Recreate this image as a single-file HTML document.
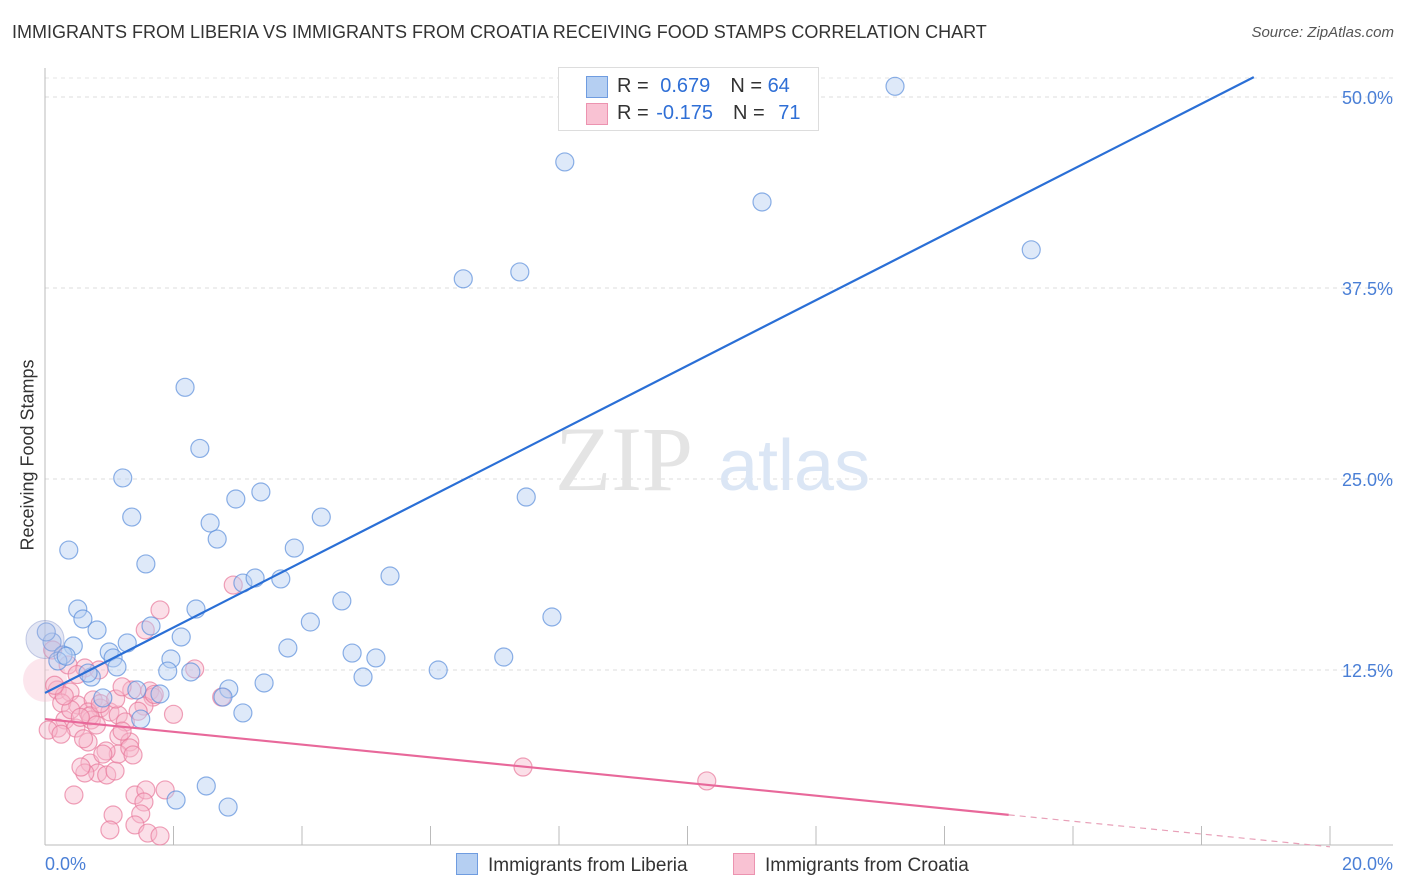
<!DOCTYPE html>
<html><head><meta charset="utf-8"><style>
body{margin:0;background:#fff;font-family:"Liberation Sans",sans-serif;}
#wrap{position:relative;width:1406px;height:892px;overflow:hidden;}
.t{position:absolute;white-space:nowrap;}
</style></head><body>
<div id="wrap">
<div class="t" style="left:12px;top:22px;font-size:18px;color:#333;">IMMIGRANTS FROM LIBERIA VS IMMIGRANTS FROM CROATIA RECEIVING FOOD STAMPS CORRELATION CHART</div>
<div class="t" style="right:12px;top:24px;font-size:15px;color:#555;font-style:italic;">Source: ZipAtlas.com</div>
<div class="t" style="left:28px;top:455px;font-size:18px;color:#333;transform:translate(-50%,-50%) rotate(-90deg);">Receiving Food Stamps</div>
<svg id="svg" width="1406" height="892" style="position:absolute;left:0;top:0"></svg>
</div>
<script>
const xTicks=[0,2,4,6,8,10,12,14,16,18,20];
const yTicks=[12.5,25,37.5,50];
const yTickLabels=["12.5%","25.0%","37.5%","50.0%"];
const xEdgeLabels=["0.0%","20.0%"];
const blueX=[13.23,8.09,11.16,15.35,6.51,7.39,2.18,2.41,1.21,7.49,3.36,2.97,1.35,4.30,2.57,2.68,0.37,3.88,1.57,5.37,3.08,3.27,3.67,4.62,7.89,0.51,2.35,0.59,4.13,0.81,1.65,0.11,2.12,1.28,0.44,3.78,1.00,4.78,1.06,0.28,1.96,5.15,7.14,0.20,1.12,1.91,6.12,4.95,0.72,2.27,0.67,3.41,2.86,1.43,1.79,0.90,2.77,3.08,1.49,2.51,2.04,2.85,0.33,0.02];
const blueY=[50.7,45.75,43.13,40.0,38.1,38.55,31.0,27.0,25.07,23.82,24.15,23.69,22.51,22.51,22.12,21.07,20.35,20.48,19.44,18.65,18.19,18.52,18.46,17.02,15.97,16.49,16.49,15.84,15.64,15.12,15.38,14.33,14.66,14.27,14.07,13.94,13.68,13.61,13.29,13.48,13.22,13.29,13.35,13.09,12.70,12.43,12.50,12.04,12.04,12.37,12.3,11.65,11.26,11.19,10.93,10.67,10.73,9.69,9.29,4.91,3.99,3.53,13.4,14.99];
const pinkX=[2.93,1.79,1.56,0.12,2.33,0.36,0.62,0.84,0.19,0.39,0.26,0.51,0.75,0.86,1.01,0.67,0.31,0.20,0.48,0.72,1.14,1.25,1.63,1.68,1.35,2.75,1.54,1.15,0.67,1.32,0.70,0.82,0.62,0.96,1.09,0.56,1.14,1.32,1.37,1.40,0.45,1.57,1.87,1.54,1.06,1.49,1.01,1.40,1.60,1.79,7.44,10.30,0.05,0.70,0.86,1.20,0.40,0.95,1.45,0.30,0.55,0.80,1.10,0.25,0.60,1.70,0.90,0.15,2.0,1.2,0.5];
const pinkY=[18.06,16.43,15.12,13.81,12.57,12.83,12.63,12.50,11.19,11.06,10.34,10.21,10.54,10.01,9.75,9.75,9.23,8.70,8.70,9.23,9.55,9.10,11.13,10.73,11.19,10.73,10.14,8.18,7.79,7.79,6.41,5.76,5.76,5.63,5.89,6.15,7.00,7.40,6.94,4.32,4.32,4.65,4.65,3.86,3.01,3.08,2.03,2.36,1.83,1.64,6.15,5.24,8.57,9.5,10.3,8.5,9.9,7.2,9.8,10.8,9.4,8.9,10.6,8.3,8.0,10.9,7.0,11.5,9.6,11.4,12.2];
const blueBig=[{x:0.0,y:14.5}];
const pinkBig=[{x:0.0,y:11.85}];
const blueFit=[11.0,2.142];   // intercept, slope
const pinkFit=[9.29,-0.418];
const xs=v=>45+v*64.25;
const ys=v=>861-v*15.28;
const svg=document.getElementById('svg');
const NS='http://www.w3.org/2000/svg';
function mk(t,a){const e=document.createElementNS(NS,t);for(const k in a)e.setAttribute(k,a[k]);svg.appendChild(e);return e;}
yTicks.forEach((v,i)=>{
 const g=mk('line',{x1:45,x2:1393,y1:ys(v),y2:ys(v),stroke:'#ddd','stroke-dasharray':'4,4'});
 
 
 const t=mk('text',{x:1393,y:ys(v)+7,'text-anchor':'end','font-size':18,fill:'#4a7fd6','font-family':'Liberation Sans'});
 t.textContent=yTickLabels[i];
 
 
});
mk('line',{x1:45,x2:1393,y1:78,y2:78,stroke:'#e4e4e4','stroke-dasharray':'4,4'});
const ax=mk('line',{x1:45,x2:1393,y1:845,y2:845,stroke:'#bbb'});


const ay=mk('line',{x1:45,x2:45,y1:68,y2:845,stroke:'#bbb'});


xTicks.forEach(v=>{const l=mk('line',{x1:xs(v),x2:xs(v),y1:826,y2:845,stroke:'#bbb'});
 
 });
[[0,'start'],[20,'end']].forEach((p,i)=>{const t=mk('text',{x:i?1393:45,y:870,'text-anchor':p[1],'font-size':18,fill:'#4a7fd6','font-family':'Liberation Sans'});t.textContent=xEdgeLabels[i];
 
 });
const w=mk('text',{x:555,y:490,'font-size':92,fill:'#e4e4e4','font-family':'Liberation Serif'});w.textContent='ZIP';


const w2=mk('text',{x:718,y:490,'font-size':72,fill:'#dbe6f5','font-family':'Liberation Sans'});w2.textContent='atlas';


function dots(X,Y,fill,stroke,name){X.forEach((x,i)=>{const c=mk('circle',{cx:xs(x),cy:ys(Y[i]),r:9,fill:fill,'fill-opacity':0.45,stroke:stroke,'stroke-opacity':0.7,'stroke-width':1.2});
 
 });}
pinkBig.forEach(p=>{const c=mk('circle',{cx:xs(p.x),cy:ys(p.y),r:22,fill:'#f7b8cb','fill-opacity':0.35});
 
 });
dots(pinkX,pinkY,'#f7b8cb','#e8799b','croatia-point');
dots(blueX,blueY,'#b5cff2','#5b8fdc','liberia-point');
blueBig.forEach(p=>{const c=mk('circle',{cx:xs(p.x),cy:ys(p.y),r:19,fill:'#b0b8e0','fill-opacity':0.35,stroke:'#8090c8','stroke-opacity':0.45});
 
 });
const bx2=(51.3-blueFit[0])/blueFit[1];
const bl=mk('line',{x1:xs(0),y1:ys(blueFit[0]),x2:xs(bx2),y2:ys(blueFit[0]+blueFit[1]*bx2),stroke:'#2a6fd6','stroke-width':2.2});


const pl=mk('line',{x1:xs(0),y1:ys(pinkFit[0]),x2:xs(15),y2:ys(pinkFit[0]+pinkFit[1]*15),stroke:'#e8689a','stroke-width':2.2});


const pd=mk('line',{x1:xs(15),y1:ys(pinkFit[0]+pinkFit[1]*15),x2:xs(20),y2:ys(pinkFit[0]+pinkFit[1]*20),stroke:'#e8a0b8','stroke-width':1.2,'stroke-dasharray':'6,5'});


</script>
<div class="t" style="left:558px;top:67px;width:259px;height:62px;border:1px solid #ddd;background:#fff;font-size:20px;color:#333;">
 <div style="position:absolute;left:27px;top:8px;width:20px;height:20px;background:#b5cff2;border:1px solid #6f9ce0;"></div>
 <div style="position:absolute;left:58px;top:7px;">R = <span style="color:#2f6fd6;margin-left:6px">0.679</span><span style="margin-left:20px">N = </span><span style="color:#2f6fd6">64</span></div>
 <div style="position:absolute;left:27px;top:35px;width:20px;height:20px;background:#f9c2d3;border:1px solid #ec93b0;"></div>
 <div style="position:absolute;left:58px;top:34px;">R = <span style="color:#2f6fd6;margin-left:2px">-0.175</span><span style="margin-left:20px">N = </span><span style="color:#2f6fd6;margin-left:8px">71</span></div>
</div>
<div class="t" style="left:456px;top:853px;font-size:19px;color:#333;"><span style="display:inline-block;width:20px;height:20px;background:#b5cff2;border:1px solid #6f9ce0;vertical-align:-4px;margin-right:10px"></span>Immigrants from Liberia</div>
<div class="t" style="left:733px;top:853px;font-size:19px;color:#333;"><span style="display:inline-block;width:20px;height:20px;background:#f9c2d3;border:1px solid #ec93b0;vertical-align:-4px;margin-right:10px"></span>Immigrants from Croatia</div>
</body></html>
